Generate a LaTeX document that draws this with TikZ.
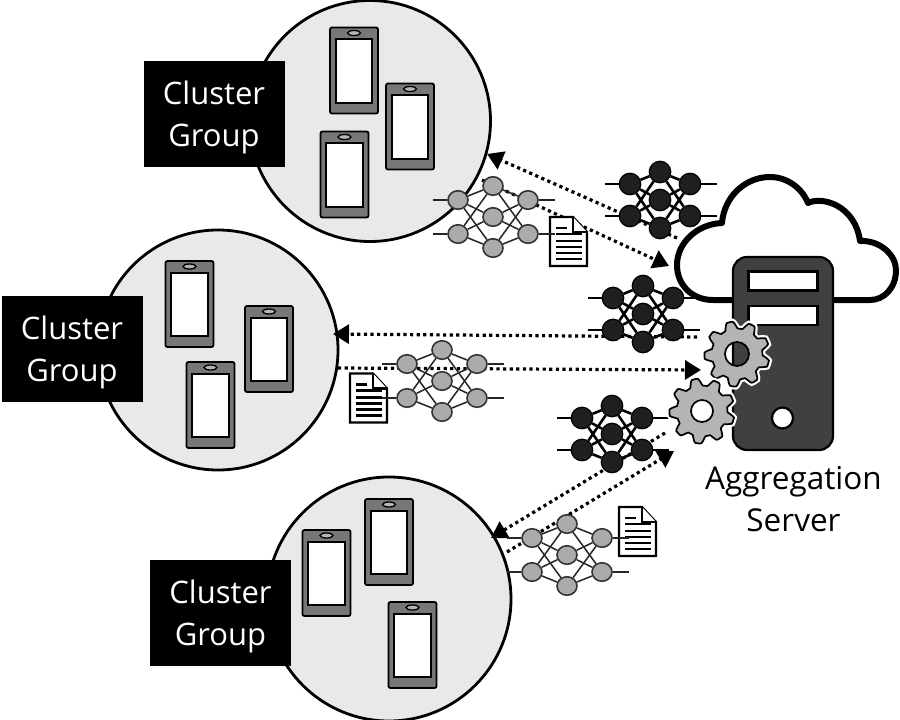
\documentclass[tikz,border=0pt]{standalone}
\usepackage{fontspec}
\setmainfont{Open Sans}
\usetikzlibrary{shapes.geometric,arrows.meta}
\definecolor{cfill}{HTML}{E9E9E9}
\definecolor{phonec}{HTML}{777777}
\definecolor{srv}{HTML}{404040}
\definecolor{gearc}{HTML}{B4B4B4}
\definecolor{nngray}{HTML}{ABABAB}
\tikzset{
  cluster/.style={circle,draw=black,line width=2.8pt,fill=cfill,inner sep=0pt,minimum size=#1},
  label box/.style={fill=black,inner sep=0pt,minimum width=141pt,minimum height=106pt},
  label text/.style={text=white,inner sep=0pt,align=center,font=\fontsize{31}{42}\selectfont,yshift=-3.5pt},
  phonebody/.style={draw=black,line width=1.8pt,fill=phonec,rounded corners=2pt,inner sep=0pt,minimum width=48pt,minimum height=86pt},
  phonescreen/.style={draw=black,line width=2pt,fill=white,inner sep=0pt,minimum width=36.5pt,minimum height=63.5pt},
  phonespeaker/.style={ellipse,draw=black,line width=1.3pt,fill=gearc,inner sep=0pt,minimum width=13pt,minimum height=5pt},
  graynode/.style={ellipse,draw=black!80,line width=1.6pt,fill=nngray,inner sep=0pt,minimum width=20pt,minimum height=18.5pt},
  blacknode/.style={ellipse,draw=black,line width=1.2pt,fill=black!88,inner sep=0pt,minimum width=21.5pt,minimum height=21.5pt},
  grayedge/.style={draw=black!85,line width=1.5pt},
  blackedge/.style={draw=black,line width=2.6pt},
  link/.style={line width=3.2pt,dash pattern=on 3.2pt off 3.4pt,draw=black,-{Triangle[length=16pt,width=19pt,sep=0pt]}},
  docsheet/.style={draw=black,line width=2.2pt,fill=white,line join=miter},
  docline/.style={draw=black,line width=2.2pt},
  slot/.style={draw=black,line width=2.4pt,fill=white,inner sep=0pt,minimum width=69pt,minimum height=19pt},
  gearbody/.style={draw=black,line width=1.7pt,fill=gearc,even odd rule},
}
\newcommand{\phoneat}[2]{%
  \node[phonebody] at (#1,#2) {};
  \node[phonescreen] at (#1,#2+.3) {};
  \node[phonespeaker] at (#1,#2-37.5) {};
}
\newcommand{\netbody}[7]{%
  \begin{scope}[shift={(#2,#3)}]
    \node[#7node] (#1i1) at (-#4,-#5) {};
    \node[#7node] (#1i2) at (-#4,#5) {};
    \node[#7node] (#1m1) at (0,-#6) {};
    \node[#7node] (#1m2) at (0,0) {};
    \node[#7node] (#1m3) at (0,#6) {};
    \node[#7node] (#1o1) at (#4,-#5) {};
    \node[#7node] (#1o2) at (#4,#5) {};
    \coordinate (#1l1) at (-#4-25,-#5);
    \coordinate (#1l2) at (-#4-25,#5);
    \coordinate (#1r1) at (#4+27,-#5);
    \coordinate (#1r2) at (#4+27,#5);
    \foreach \a in {i1,i2,o1,o2}
      \foreach \b in {m1,m2,m3}
        \draw[#7edge] (#1\a) -- (#1\b);
    \draw[#7edge] (#1l1) -- (#1i1) (#1l2) -- (#1i2) (#1o1) -- (#1r1) (#1o2) -- (#1r2);
  \end{scope}
}
\newcommand{\gnet}[3]{\netbody{#1}{#2}{#3}{35}{17}{31}{gray}}
\newcommand{\bnet}[3]{\netbody{#1}{#2}{#3}{30}{16}{28}{black}}
\newcommand{\docat}[2]{%
  \begin{scope}[shift={(#1,#2)}]
    \draw[docsheet] (0,0) -- (23,0) -- (37,15) -- (37,49) -- (0,49) -- cycle;
    \draw[docsheet] (23,0) -- (23,15) -- (37,15);
    \draw[docline] (6,11) -- (17,11);
    \foreach \y in {17,24,30,36,42} \draw[docline] (6,\y) -- (32,\y);
  \end{scope}
}
\newcommand{\gearat}[3]{%
  \begin{scope}[shift={(#1,#2)}]
    \draw[white,line width=6pt] plot[smooth cycle,samples=161,domain=0:358] ({\x+7}:{29+3.6*max(min(1.6*sin(9*\x),1),-1)});
    \path[gearbody] plot[samples=161,domain=0:360] ({\x+7}:{29+3.6*max(min(1.6*sin(9*\x),1),-1)}) -- cycle (0,0) circle (#3);
  \end{scope}
}
\begin{document}
\begin{tikzpicture}[x=1pt,y=-1pt]
\useasboundingbox (0,0) rectangle (900,720);
\fill[white] (0,0) rectangle (900,720);
% clusters
\node[cluster=241pt] (c1) at (370,121) {};
\node[cluster=240pt] (c2) at (218,350) {};
\node[cluster=244pt] (c3) at (389,599) {};
\phoneat{354}{70.5}\phoneat{410}{126.5}\phoneat{344.5}{174.5}
\phoneat{189.5}{304}\phoneat{269}{349}\phoneat{210.5}{405}
\phoneat{326.5}{573}\phoneat{389}{542}\phoneat{412.5}{645}
\node[label box] (g1) at (214,114) {};
\node[label text] at (g1) {Cluster\\Group};
\node[label box] (g2) at (72,349) {};
\node[label text] at (g2) {Cluster\\Group};
\node[label box] (g3) at (220.5,613) {};
\node[label text] at (g3) {Cluster\\Group};
% link ends
\coordinate (a1s) at (677,238); \coordinate (a1e) at (487,154);
\coordinate (a2s) at (482,180); \coordinate (a2e) at (669,266);
\coordinate (a3s) at (697,337); \coordinate (a3e) at (333,334);
\coordinate (a4s) at (338,368); \coordinate (a4e) at (701,370);
\coordinate (a5s) at (665,433); \coordinate (a5e) at (491,538);
\coordinate (a6s) at (507,552); \coordinate (a6e) at (674,451);
\foreach \s/\e in {a1s/a1e,a2s/a2e,a3s/a3e,a4s/a4e,a5s/a5e,a6s/a6e}
  \draw[link] (\s) -- (\e);
% documents
\docat{550}{217}
\docat{350}{373.5}
\docat{619}{507}
% networks
\gnet{n1}{493}{217}
\gnet{n2}{442}{381}
\gnet{n3}{567}{555}
\bnet{b1}{660}{200}
\bnet{b2}{643}{314}
\bnet{b3}{612}{434}
% cloud
\draw[draw=black,fill=white,line width=6pt,line join=round]
  (713,300) .. controls (692,300) and (677,285) .. (677,265)
  .. controls (677,243) and (697,224) .. (722,223)
  .. controls (724,197) and (745,177) .. (770,177)
  .. controls (787,177) and (802,188) .. (808,203)
  .. controls (822,196) and (855,205) .. (860,241)
  .. controls (880,240) and (896,255) .. (896,270)
  .. controls (896,288) and (884,300) .. (870,300) -- cycle;
% server
\node[draw=black,line width=2.2pt,fill=srv,rounded corners=14pt,inner sep=0pt,minimum width=100pt,minimum height=193pt] (server) at (783,353.5) {};
\node[slot] (s1) at (783,281) {};
\node[slot] (s2) at (783,315.5) {};
\node[circle,draw=black,line width=2.2pt,fill=white,inner sep=0pt,minimum size=21pt] (btn) at (782.5,418) {};
\gearat{737}{354}{12}
\gearat{702}{411}{11}
\node[align=center,font=\fontsize{31.5}{42.5}\selectfont] (lab) at (793.5,499) {Aggregation\\Server};
\end{tikzpicture}
\end{document}
